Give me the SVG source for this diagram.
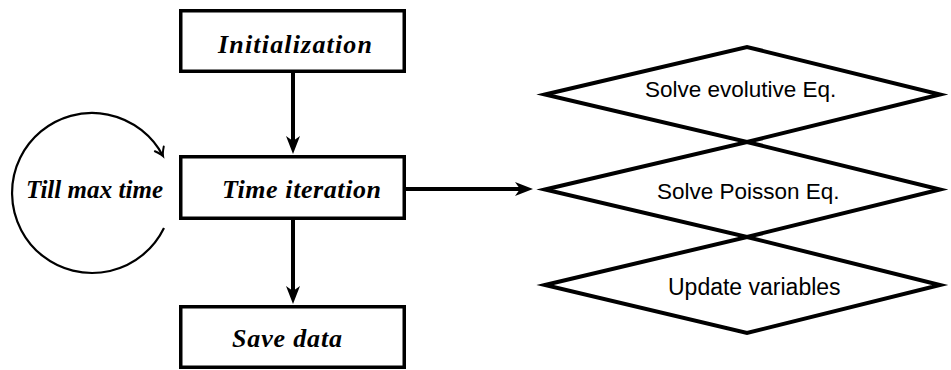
<svg xmlns="http://www.w3.org/2000/svg" width="951" height="370" viewBox="0 0 951 370">
  <style>
    .box { fill: #ffffff; stroke: #000000; stroke-width: 3.5; }
    .dia { fill: none; stroke: #000000; stroke-width: 4; stroke-miterlimit: 10; stroke-linejoin: miter; }
    .conn { fill: none; stroke: #000000; stroke-width: 4; }
    .loop { fill: none; stroke: #000000; stroke-width: 2.2; }
    .serif { font-family: "Liberation Serif", "Times New Roman", serif; font-style: italic; fill: #000000; }
    .label { font-size: 26px; font-weight: bold; }
    .sans { font-family: "Liberation Sans", Arial, sans-serif; fill: #000000; }
  </style>
  <defs>
    <marker id="arrow" markerUnits="userSpaceOnUse" viewBox="-12 -8 22 16" refX="0" refY="0" markerWidth="22" markerHeight="16" orient="auto" overflow="visible">
      <path d="M8,0 L-10,-7 L-5,0 L-10,7 Z" fill="#000000"/>
    </marker>
    <marker id="barb" markerUnits="userSpaceOnUse" viewBox="-10 -7 12 14" refX="0" refY="0" markerWidth="12" markerHeight="14" orient="auto" overflow="visible">
      <path d="M-8,-5 Q-3,-1 0,0 Q-3,1 -8,5" fill="none" stroke="#000000" stroke-width="2" stroke-linecap="round"/>
    </marker>
  </defs>

  <g id="connectors">
    <line class="conn" x1="293" y1="73" x2="293" y2="146" marker-end="url(#arrow)"/>
    <line class="conn" x1="293" y1="220" x2="293" y2="296" marker-end="url(#arrow)"/>
    <line class="conn" x1="406" y1="189" x2="525" y2="189" marker-end="url(#arrow)"/>
    <path class="loop" d="M164,228 A80,80 0 1 1 163,156" marker-end="url(#barb)"/>
  </g>

  <g id="loop-label">
    <text class="serif" x="26" y="198" font-size="25" font-weight="bold" textLength="137" lengthAdjust="spacing">Till max time</text>
  </g>

  <g id="node-initialization">
    <rect class="box" x="180.75" y="10.75" width="223.5" height="60.5"/>
    <text class="serif label" x="218" y="53" textLength="154" lengthAdjust="spacing">Initialization</text>
  </g>

  <g id="node-time-iteration">
    <rect class="box" x="180.75" y="156.75" width="223.5" height="61.5"/>
    <text class="serif label" x="222" y="198" textLength="159" lengthAdjust="spacing">Time iteration</text>
  </g>

  <g id="node-save-data">
    <rect class="box" x="180.75" y="306.75" width="223.5" height="60.5"/>
    <text class="serif label" x="232" y="347" textLength="110" lengthAdjust="spacing">Save data</text>
  </g>

  <g id="node-solve-evolutive">
    <polygon class="dia" points="545,94.5 747,47 940,94.5 747,142"/>
    <text class="sans" x="645" y="97" font-size="22.5">Solve evolutive Eq.</text>
  </g>

  <g id="node-solve-poisson">
    <polygon class="dia" points="545,189.5 747,142 940,189.5 747,237"/>
    <text class="sans" x="657" y="199" font-size="22.5">Solve Poisson Eq.</text>
  </g>

  <g id="node-update-variables">
    <polygon class="dia" points="545,285 747,237 940,285 747,333"/>
    <text class="sans" x="668" y="295" font-size="23">Update variables</text>
  </g>
</svg>
